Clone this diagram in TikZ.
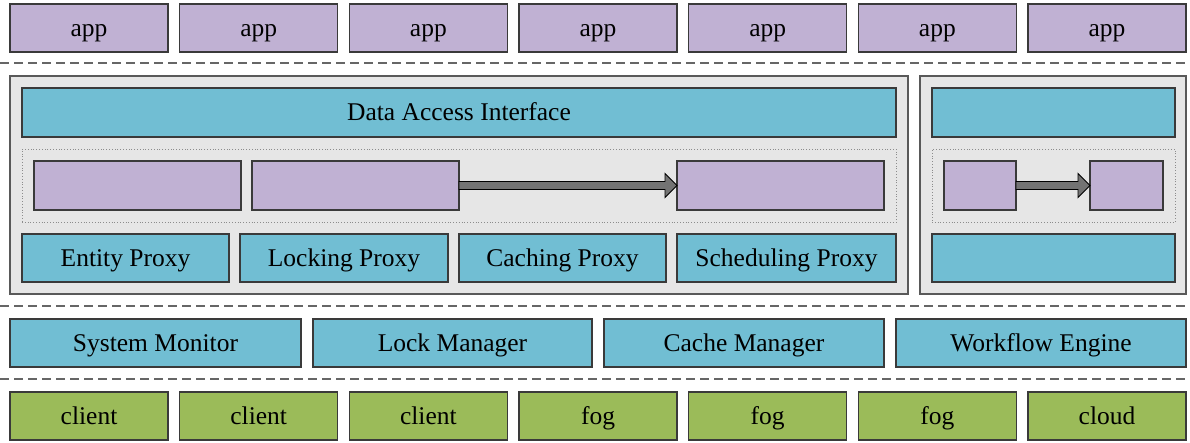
\documentclass[tikz,border=0pt]{standalone}
\usepackage{fontspec}
\setmainfont{Liberation Serif}
\usetikzlibrary{calc}
\definecolor{ppl}{HTML}{C0B1D3}
\definecolor{cyn}{HTML}{71BED3}
\definecolor{grn}{HTML}{9BBB59}
\definecolor{pnl}{HTML}{E6E6E6}
\definecolor{edge}{HTML}{3A3A3A}
\newcommand\bx[7]{\node[#1, anchor=north west, minimum width={(#5-#3)*1pt}, minimum height={(#6-#4)*1pt}] (#2) at (#3,#4) {#7};}
\begin{document}
\begin{tikzpicture}[x=1pt,y=-1pt,
  base/.style={draw=edge, line width=1.1pt, inner sep=0pt, outer sep=0pt,
    text height=20pt, text depth=4pt,
    font=\fontsize{25.5}{30}\selectfont},
  pbox/.style={base, fill=ppl},
  cbox/.style={base, fill=cyn},
  gbox/.style={base, fill=grn},
  panel/.style={base, fill=pnl, draw=black!65},
  dotbox/.style={draw=black!45, dotted, line width=0.8pt, inner sep=0pt, outer sep=0pt},
  sep/.style={draw=black!60, line width=1.4pt, dash pattern=on 9pt off 5pt},
  fatarrow/.style={draw=black, line width=0.9pt, fill=black!55}]
\useasboundingbox (0,0) rectangle (1190,442);
% apps and bottom row
\foreach \i/\t in {0/client,1/client,2/client,3/fog,4/fog,5/fog,6/cloud}{
  \pgfmathsetmacro\xl{10+169.67*\i}
  \pgfmathsetmacro\xr{\xl+158}
  \bx{pbox}{app\i}{\xl}{4}{\xr}{52}{app}
  \bx{gbox}{node\i}{\xl}{392}{\xr}{440}{\t}
}
% separators
\coordinate (s1l) at (0,63);   \coordinate (s1r) at (1190,63);
\coordinate (s2l) at (0,306);  \coordinate (s2r) at (1190,306);
\coordinate (s3l) at (0,379);  \coordinate (s3r) at (1190,379);
\draw[sep] (s1l) -- (s1r);
\draw[sep] (s2l) -- (s2r);
\draw[sep] (s3l) -- (s3r);
% panels
\bx{panel}{left}{10}{76}{908}{294}{}
\bx{panel}{right}{920}{76}{1186}{294}{}
\bx{cbox}{dai}{22}{88}{896}{137}{Data Access Interface}
\bx{cbox}{rtop}{932}{88}{1175}{137}{}
\bx{dotbox}{dotl}{22}{149}{896}{222}{}
\bx{dotbox}{dotr}{932}{149}{1175}{222}{}
\bx{pbox}{pa}{34}{161}{241}{210}{}
\bx{pbox}{pb}{252}{161}{459}{210}{}
\bx{pbox}{pc}{677}{161}{884}{210}{}
\bx{pbox}{ra}{944}{161}{1016}{210}{}
\bx{pbox}{rb}{1090}{161}{1163}{210}{}
\bx{cbox}{ent}{22}{234}{229}{282}{Entity Proxy}
\bx{cbox}{lock}{240}{234}{448}{282}{Locking Proxy}
\bx{cbox}{cach}{459}{234}{666}{282}{Caching Proxy}
\bx{cbox}{sched}{677}{234}{896}{282}{Scheduling Proxy}
\bx{cbox}{rbot}{932}{234}{1175}{282}{}
% managers
\bx{cbox}{sysm}{10}{319}{301}{367}{System Monitor}
\bx{cbox}{lockm}{313}{319}{592}{367}{Lock Manager}
\bx{cbox}{cachem}{604}{319}{884}{367}{Cache Manager}
\bx{cbox}{wfe}{896}{319}{1186}{367}{Workflow Engine}
% fat arrows
\draw[fatarrow] ($(pb.east)+(0,-4)$) -- ($(pc.west)+(-12,-4)$) -- ($(pc.west)+(-12,-12)$) -- (pc.west)
  -- ($(pc.west)+(-12,12)$) -- ($(pc.west)+(-12,4)$) -- ($(pb.east)+(0,4)$) -- cycle;
\draw[fatarrow] ($(ra.east)+(0,-4)$) -- ($(rb.west)+(-12,-4)$) -- ($(rb.west)+(-12,-12)$) -- (rb.west)
  -- ($(rb.west)+(-12,12)$) -- ($(rb.west)+(-12,4)$) -- ($(ra.east)+(0,4)$) -- cycle;
\end{tikzpicture}
\end{document}
